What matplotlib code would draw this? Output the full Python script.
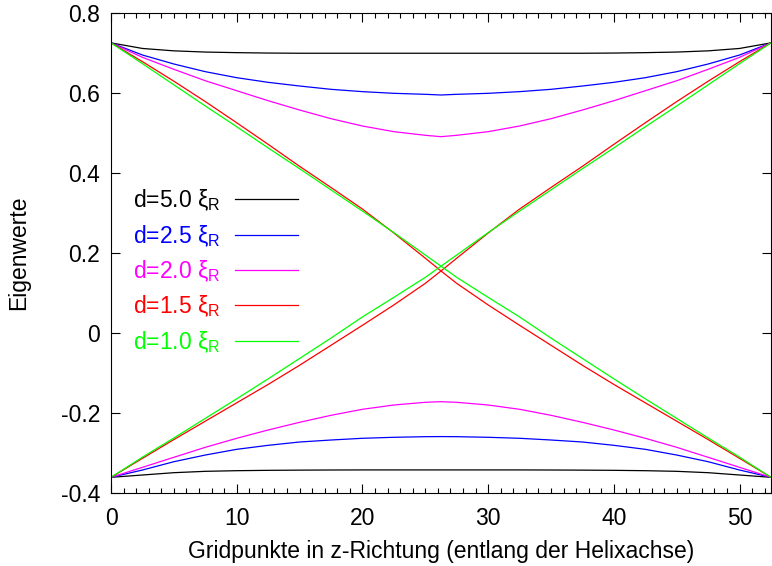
import matplotlib
matplotlib.use("Agg")
import matplotlib.pyplot as plt
from matplotlib.ticker import MultipleLocator

plt.rcParams['font.family'] = ['Liberation Sans', 'DejaVu Sans']
plt.rcParams['mathtext.fontset'] = 'custom'
plt.rcParams['mathtext.rm'] = 'Liberation Sans'
plt.rcParams['mathtext.it'] = 'Liberation Sans'

# gridpoints along the helix axis
z = [0, 2.5, 5, 7.5, 10, 12.5, 15, 17.5, 20, 22.5, 25, 26.25,
     27.5, 30, 32.5, 35, 37.5, 40, 42.5, 45, 47.5, 50, 52.5]

# d = 5.0
ev_d50_hi = [0.726, 0.712, 0.706, 0.703, 0.7015, 0.7005, 0.700, 0.700, 0.700, 0.700, 0.700, 0.700,
             0.700, 0.700, 0.700, 0.700, 0.700, 0.7005, 0.7015, 0.703, 0.706, 0.712, 0.726]
ev_d50_lo = [-0.3615, -0.3557, -0.3499, -0.3465, -0.3449, -0.344, -0.3435, -0.3432, -0.343, -0.343, -0.343, -0.343,
             -0.343, -0.343, -0.343, -0.3432, -0.3435, -0.344, -0.3449, -0.3465, -0.3499, -0.3557, -0.3615]
# d = 2.5
ev_d25_hi = [0.726, 0.6956, 0.6731, 0.6539, 0.6388, 0.6272, 0.618, 0.6097, 0.6039, 0.5997, 0.5972, 0.5955,
             0.5972, 0.5997, 0.6039, 0.6097, 0.618, 0.6272, 0.6388, 0.6539, 0.6731, 0.6956, 0.726]
ev_d25_lo = [-0.3615, -0.3432, -0.3224, -0.3057, -0.2914, -0.2814, -0.2731, -0.2681, -0.2638, -0.2613, -0.2598, -0.2595,
             -0.2598, -0.2613, -0.2638, -0.2681, -0.2731, -0.2814, -0.2914, -0.3057, -0.3224, -0.3432, -0.3615]
# d = 2.0
ev_d20_hi = [0.726, 0.6898, 0.6598, 0.6312, 0.6062, 0.5812, 0.5579, 0.5362, 0.5179, 0.5037, 0.4946, 0.4912,
             0.4946, 0.5037, 0.5179, 0.5362, 0.5579, 0.5812, 0.6062, 0.6312, 0.6598, 0.6898, 0.726]
ev_d20_lo = [-0.3615, -0.3365, -0.3114, -0.2864, -0.2638, -0.2430, -0.2238, -0.2063, -0.1912, -0.1805, -0.1737, -0.1722,
             -0.1737, -0.1805, -0.1912, -0.2063, -0.2238, -0.2430, -0.2638, -0.2864, -0.3114, -0.3365, -0.3615]
# d = 1.5 (branches cross in the middle)
ev_d15_a = [0.726, 0.679, 0.630, 0.579, 0.526, 0.472, 0.417, 0.364, 0.310, 0.250, 0.187, 0.155,
            0.124, 0.070, 0.019, -0.031, -0.081, -0.129, -0.175, -0.221, -0.267, -0.314, -0.3615]
ev_d15_b = [-0.3615, -0.314, -0.267, -0.221, -0.175, -0.129, -0.081, -0.031, 0.019, 0.070, 0.124, 0.155,
            0.187, 0.250, 0.310, 0.364, 0.417, 0.472, 0.526, 0.579, 0.630, 0.679, 0.726]
# d = 1.0
ev_d10_a = [0.726, 0.674, 0.621, 0.568, 0.516, 0.463, 0.411, 0.358, 0.305, 0.251, 0.195, 0.167,
            0.139, 0.089, 0.040, -0.013, -0.064, -0.115, -0.165, -0.214, -0.263, -0.311, -0.3615]
ev_d10_b = [-0.3615, -0.311, -0.263, -0.214, -0.165, -0.115, -0.064, -0.013, 0.040, 0.089, 0.139, 0.167,
            0.195, 0.251, 0.305, 0.358, 0.411, 0.463, 0.516, 0.568, 0.621, 0.674, 0.726]

labels = ['d=5.0 ξ$_{\\mathrm{R}}$', 'd=2.5 ξ$_{\\mathrm{R}}$', 'd=2.0 ξ$_{\\mathrm{R}}$',
          'd=1.5 ξ$_{\\mathrm{R}}$', 'd=1.0 ξ$_{\\mathrm{R}}$']
colors = ['#000000', '#0000ff', '#ff00ff', '#ff0000', '#00ff00']
curves = [(ev_d50_hi, ev_d50_lo), (ev_d25_hi, ev_d25_lo), (ev_d20_hi, ev_d20_lo),
          (ev_d15_a, ev_d15_b), (ev_d10_a, ev_d10_b)]

yticks = [-0.4, -0.2, 0, 0.2, 0.4, 0.6, 0.8]
ytick_labels = ['-0.4', '-0.2', '0', '0.2', '0.4', '0.6', '0.8']
xticks = [0, 10, 20, 30, 40, 50]

fs = 16.5

fig = plt.figure(figsize=(7.72, 5.66), dpi=100)
ax = fig.add_axes([0.1438, 0.1295, 0.8549, 0.847])

for (a, b), c, lab in zip(curves, colors, labels):
    ax.plot(z, a, color=c, lw=0.9, label=lab)
    ax.plot(z, b, color=c, lw=0.9)

ax.set_xlim(0, 52.5)
ax.set_ylim(-0.4, 0.8)
ax.set_xticks(xticks)
ax.xaxis.set_minor_locator(MultipleLocator(1))
ax.set_yticks(yticks)
ax.set_yticklabels(ytick_labels)

ax.tick_params(which='both', direction='in', top=True, right=True, labelsize=fs, width=0.8)
ax.tick_params(which='major', length=6.5)
ax.tick_params(which='minor', length=3.3)
ax.tick_params(axis='x', pad=10.5)
ax.tick_params(axis='y', pad=8)
for s in ax.spines.values():
    s.set_linewidth(0.8)

ax.set_xlabel('Gridpunkte in z-Richtung (entlang der Helixachse)', fontsize=fs, labelpad=7)
ax.set_ylabel('Eigenwerte', fontsize=fs, labelpad=22)

ax.legend(loc='upper left', bbox_to_anchor=(0.033, 0.637), frameon=False, markerfirst=False,
          labelcolor='linecolor', fontsize=fs, handlelength=2.75, handletextpad=0.64,
          labelspacing=0.42, borderaxespad=0, borderpad=0)

fig.savefig('out.png', dpi=100)
